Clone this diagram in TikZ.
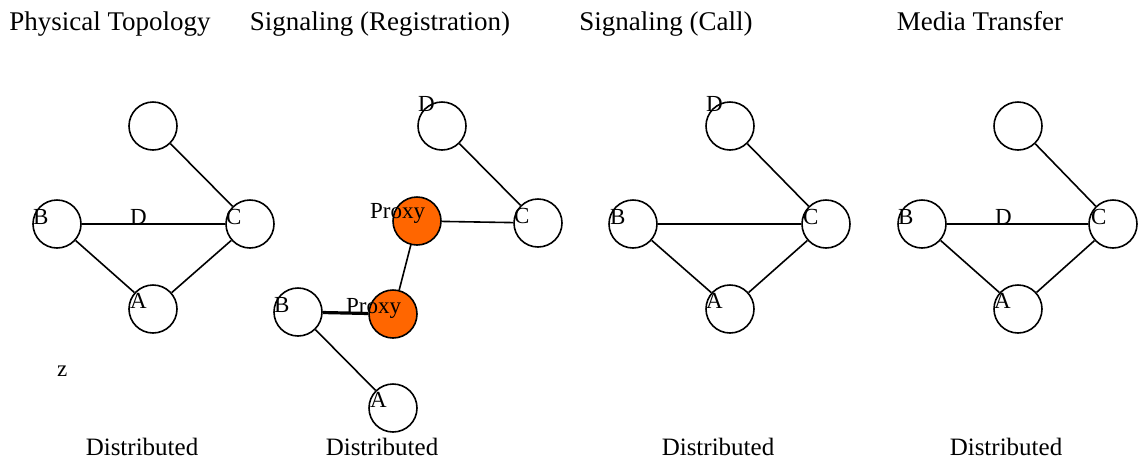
\documentclass[tikz,border=0pt]{standalone}
\usepackage{fontspec}
\setmainfont{Liberation Serif}
\begin{document}
\begin{tikzpicture}[x=1pt,y=-1pt,
  host/.style={circle,draw,line width=1.6pt,minimum size=48pt,inner sep=0pt,fill=white},
  proxy/.style={host,fill={rgb,255:red,255;green,102;blue,0}},
  link/.style={line width=1.6pt},
  trunk/.style={line width=3.2pt},
  lbl/.style={anchor=base west,inner sep=0pt,font=\fontsize{23}{27}\selectfont},
  head/.style={anchor=base,inner sep=0pt,font=\fontsize{27}{32}\selectfont},
  foot/.style={anchor=base,inner sep=0pt,font=\fontsize{25}{30}\selectfont}]
\useasboundingbox (0,0) rectangle (1142,459);

% column headings and footers
\node[head] (t1) at (110,30) {Physical Topology};
\node[head] (t2) at (380,30) {Signaling (Registration)};
\node[head] (t3) at (666,30) {Signaling (Call)};
\node[head] (t4) at (980,30) {Media Transfer};
\node[foot] (f1) at (142,455) {Distributed};
\node[foot] (f2) at (382,455) {Distributed};
\node[foot] (f3) at (718,455) {Distributed};
\node[foot] (f4) at (1006,455) {Distributed};

% physical topology
\node[host] (pD) at (153,126) {};
\node[host] (pB) at (57,224) {};
\node[host] (pC) at (250,224) {};
\node[host] (pA) at (153,309) {};
\draw[link] (pD) -- (pC);
\draw[link] (pB) -- (pC);
\draw[link] (pB) -- (pA);
\draw[link] (pA) -- (pC);
\node[lbl] (pBl) at (33,224) {B};
\node[lbl] (pDl) at (130,224) {D};
\node[lbl] (pCl) at (226,224) {C};
\node[lbl] (pAl) at (130,308) {A};
\node[lbl] (z) at (57,376) {z};

% registration signaling
\node[host] (rD) at (442,126) {};
\node[proxy] (rP1) at (417,221) {};
\node[host] (rC) at (538,223) {};
\node[proxy] (rP2) at (393,314) {};
\node[host] (rB) at (298,312) {};
\node[host] (rA) at (393,408) {};
\draw[link] (rD) -- (rC);
\draw[link] (rP1) -- (rC);
\draw[link] (rP1) -- (rP2);
\draw[trunk] (rB) -- (rP2);
\draw[link] (rB) -- (rA);
\node[lbl] (rDl) at (418,111) {D};
\node[lbl] (rP1l) at (370,218) {Proxy};
\node[lbl] (rCl) at (514,223) {C};
\node[lbl] (rP2l) at (346,313) {Proxy};
\node[lbl] (rBl) at (274,312) {B};
\node[lbl] (rAl) at (370,407) {A};

% call signaling
\node[host] (cD) at (730,126) {};
\node[host] (cB) at (633,224) {};
\node[host] (cC) at (826,224) {};
\node[host] (cA) at (730,309) {};
\draw[link] (cD) -- (cC);
\draw[link] (cB) -- (cC);
\draw[link] (cB) -- (cA);
\draw[link] (cA) -- (cC);
\node[lbl] (cDl) at (706,111) {D};
\node[lbl] (cBl) at (610,224) {B};
\node[lbl] (cCl) at (803,224) {C};
\node[lbl] (cAl) at (706,308) {A};

% media transfer
\node[host] (mD) at (1018,126) {};
\node[host] (mB) at (922,224) {};
\node[host] (mC) at (1113,224) {};
\node[host] (mA) at (1018,309) {};
\draw[link] (mD) -- (mC);
\draw[link] (mB) -- (mC);
\draw[link] (mB) -- (mA);
\draw[link] (mA) -- (mC);
\node[lbl] (mBl) at (898,224) {B};
\node[lbl] (mDl) at (995,224) {D};
\node[lbl] (mCl) at (1091,224) {C};
\node[lbl] (mAl) at (994,308) {A};
\end{tikzpicture}
\end{document}
